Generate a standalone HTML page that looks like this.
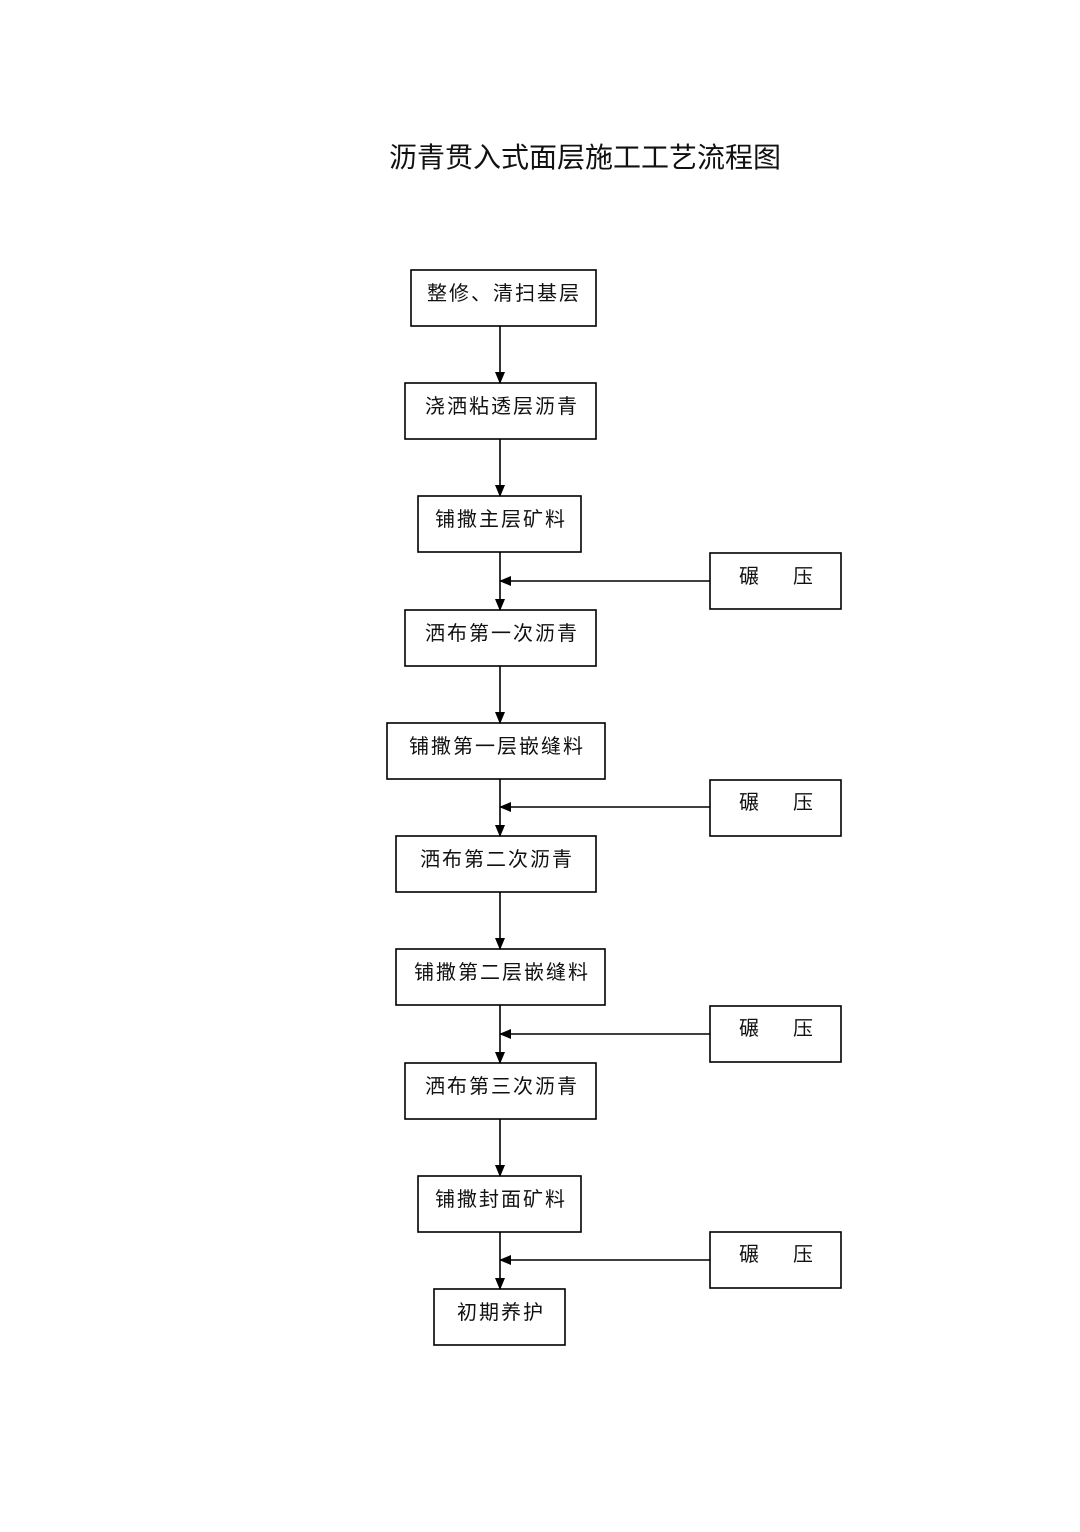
<!DOCTYPE html>
<html><head><meta charset="utf-8"><style>
html,body{margin:0;padding:0;background:#fff}
svg text{font-family:"Liberation Sans","Noto Sans CJK SC",sans-serif;fill:#111}
</style></head><body>
<svg width="1080" height="1527" viewBox="0 0 1080 1527" xmlns="http://www.w3.org/2000/svg">
<defs><marker id="a" markerWidth="12" markerHeight="12" refX="11" refY="6" orient="auto" markerUnits="userSpaceOnUse"><path d="M0,1 L12,6 L0,11 z" fill="#000"/></marker></defs>
<text x="585" y="167" font-size="28" text-anchor="middle">沥青贯入式面层施工工艺流程图</text>
<g fill="none" stroke="#000" stroke-width="1.6">
<rect x="411" y="270" width="185" height="56"/>
<rect x="405" y="383" width="191" height="56"/>
<rect x="418" y="496" width="163" height="56"/>
<rect x="405" y="610" width="191" height="56"/>
<rect x="387" y="723" width="218" height="56"/>
<rect x="396" y="836" width="200" height="56"/>
<rect x="396" y="949" width="209" height="56"/>
<rect x="405" y="1063" width="191" height="56"/>
<rect x="418" y="1176" width="163" height="56"/>
<rect x="434" y="1289" width="131" height="56"/>
<rect x="710" y="553" width="131" height="56"/>
<rect x="710" y="780" width="131" height="56"/>
<rect x="710" y="1006" width="131" height="56"/>
<rect x="710" y="1232" width="131" height="56"/>
<g marker-end="url(#a)">
<line x1="500" y1="326" x2="500" y2="383"/>
<line x1="500" y1="439" x2="500" y2="496"/>
<line x1="500" y1="552" x2="500" y2="610"/>
<line x1="500" y1="666" x2="500" y2="723"/>
<line x1="500" y1="779" x2="500" y2="836"/>
<line x1="500" y1="892" x2="500" y2="949"/>
<line x1="500" y1="1005" x2="500" y2="1063"/>
<line x1="500" y1="1119" x2="500" y2="1176"/>
<line x1="500" y1="1232" x2="500" y2="1289"/>
<line x1="710" y1="581" x2="500" y2="581"/>
<line x1="710" y1="807" x2="500" y2="807"/>
<line x1="710" y1="1034" x2="500" y2="1034"/>
<line x1="710" y1="1260" x2="500" y2="1260"/>
</g></g>
<g font-size="20" text-anchor="middle" letter-spacing="2">
<text x="504" y="300">整修、清扫基层</text>
<text x="502" y="413">浇洒粘透层沥青</text>
<text x="501" y="526">铺撒主层矿料</text>
<text x="502" y="640">洒布第一次沥青</text>
<text x="497" y="753">铺撒第一层嵌缝料</text>
<text x="497" y="866">洒布第二次沥青</text>
<text x="502" y="979">铺撒第二层嵌缝料</text>
<text x="502" y="1093">洒布第三次沥青</text>
<text x="501" y="1206">铺撒封面矿料</text>
<text x="501" y="1319">初期养护</text>
</g>
<g font-size="20">
<text x="739" y="583">碾</text><text x="793" y="583">压</text>
<text x="739" y="809">碾</text><text x="793" y="809">压</text>
<text x="739" y="1035">碾</text><text x="793" y="1035">压</text>
<text x="739" y="1261">碾</text><text x="793" y="1261">压</text>
</g>
</svg>
</body></html>
